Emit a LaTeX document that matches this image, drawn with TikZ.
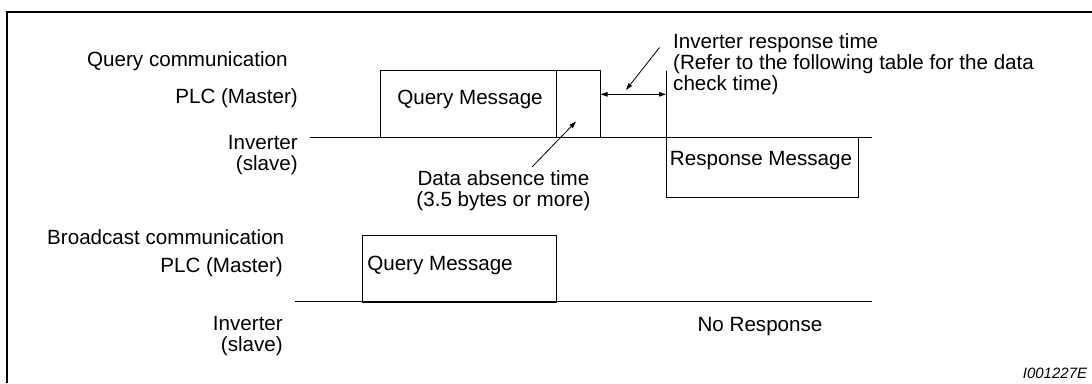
\documentclass[tikz,border=0pt]{standalone}
\usepackage{fontspec}
\setmainfont{Liberation Sans}
\usetikzlibrary{arrows.meta}
\begin{document}
\begin{tikzpicture}[x=1pt,y=-1pt,
  lbl/.style={inner sep=0pt, font=\fontsize{20.6}{21}\selectfont},
  msgbox/.style={draw, line width=0.9pt, inner sep=0pt, anchor=north west},
  tl/.style={line width=0.9pt},
  ptr/.style={line width=0.8pt, -{Triangle[length=7pt,width=4.5pt]}},
  dbl/.style={line width=0.9pt, {Triangle[length=7pt,width=4.5pt]}-{Triangle[length=7pt,width=4.5pt]}}]
\useasboundingbox (0,0) rectangle (1092,383);
% frame
\draw[line width=2pt] (7,383) -- (7,12) -- (1092,12);

% ---------- Query communication ----------
\node[lbl, anchor=base west] (qc) at (87,66) {Query communication};
\node[lbl, anchor=base east] (plc1) at (298,103) {PLC (Master)};
\node[lbl, anchor=north east, align=right] (inv1) at (298,135.5) {Inverter\\(slave)};
\coordinate (l1s) at (310,137);
\coordinate (l1e) at (872,137);
\draw[tl] (l1s) -- (l1e);

\node[msgbox, minimum width=176pt, minimum height=67pt] (qm1) at (380,70) {};
\node[lbl, anchor=base] (qm1t) at (470,104) {Query Message};
\node[msgbox, minimum width=44pt, minimum height=67pt] (ab1) at (556,70) {};

\node[msgbox, minimum width=192pt, minimum height=60pt] (rm1) at (666,137) {};
\node[lbl, anchor=base] (rm1t) at (761,165.5) {Response Message};
\coordinate (v1t) at (666,70.5);
\draw[tl] (v1t) -- (rm1.north west);

\coordinate (da1) at (600.5,94.3);
\coordinate (da2) at (666,94.3);
\draw[dbl] (da1) -- (da2);

\node[lbl, anchor=north west, align=left] (irt) at (673,33.5)
  {Inverter response time\\(Refer to the following table for the data\\check time)};
\coordinate (irs) at (659.5,47.5);
\coordinate (irp) at (626,90);
\draw[ptr] (irs) -- (irp);

\node[lbl, anchor=north, align=center] (dat) at (503.5,170)
  {Data absence time\\(3.5 bytes or more)};
\coordinate (das) at (532,167);
\coordinate (dap) at (576,121.5);
\draw[ptr] (das) -- (dap);

% ---------- Broadcast communication ----------
\node[lbl, anchor=base west] (bc) at (47,244) {Broadcast communication};
\node[lbl, anchor=base east] (plc2) at (283,272.7) {PLC (Master)};
\node[lbl, anchor=north east, align=right] (inv2) at (283,316) {Inverter\\(slave)};
\coordinate (l2s) at (295,301.7);
\coordinate (l2e) at (872,301.7);
\draw[tl] (l2s) -- (l2e);

\node[msgbox, minimum width=194pt, minimum height=66.7pt] (qm2) at (362,235) {};
\node[lbl, anchor=base] (qm2t) at (440,270.7) {Query Message};
\node[lbl, anchor=base] (nr) at (760,331.7) {No Response};

\node[inner sep=0pt, anchor=base east, font=\fontsize{15}{15}\selectfont\itshape] (id) at (1087.3,378.3) {I001227E};
\end{tikzpicture}
\end{document}
